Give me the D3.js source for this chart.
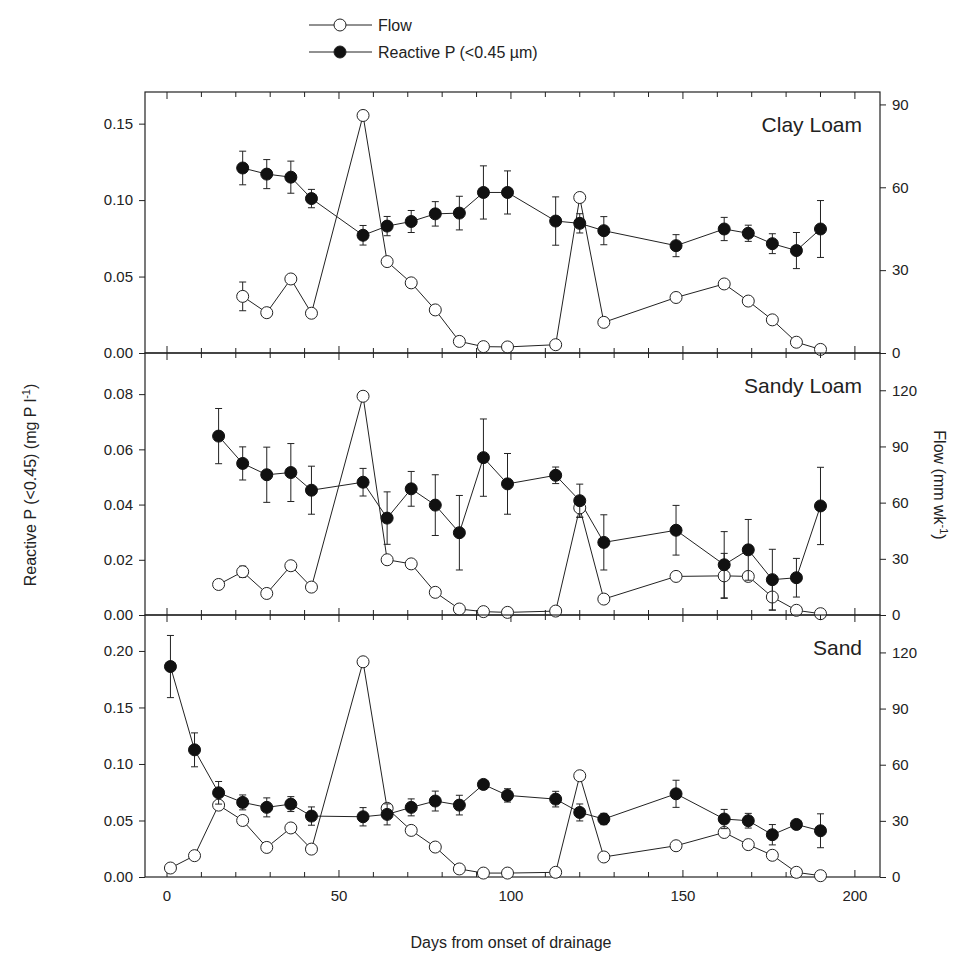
<!DOCTYPE html>
<html><head><meta charset="utf-8">
<script src="https://cdn.jsdelivr.net/npm/d3@7"></script>
<style>body{margin:0;background:#fff}text{font-family:"Liberation Sans",Arial,sans-serif;fill:#222}</style>
</head><body><svg id="c" width="956" height="953"></svg>
<script>
const panelNames = ["Clay Loam","Sandy Loam","Sand"];
const clayDays = [22,29,36,42,57,64,71,78,85,92,99,113,120,127,148,162,169,176,183,190];
const clayP =    [.121,.117,.115,.101,.077,.083,.086,.091,.0915,.105,.105,.0863,.0848,.080,.0702,.0811,.0783,.0715,.067,.0811];
const clayPErr = [.011,.0095,.0105,.006,.0064,.0063,.0072,.008,.011,.0174,.0141,.0158,.0063,.0092,.0072,.0076,.0053,.0065,.0118,.0186];
const clayFlow = [20.5,14.6,26.8,14.4,86,33.1,25.4,15.6,4.2,2.3,2.2,3,56.3,11.1,20.1,25,18.8,12,3.9,1.3];
const clayFlowErr=[5.2,0,0,0,0,0,0,0,0,0,0,0,0,0,0,0,0,0,0,0];
const sandyDays = [15,22,29,36,42,57,64,71,78,85,92,99,113,120,127,148,162,169,176,183,190];
const sandyP =    [.0648,.0549,.0508,.0516,.0452,.0481,.0351,.0457,.0398,.0298,.057,.0475,.0506,.0414,.0263,.0307,.0182,.0236,.0128,.0135,.0395];
const sandyPErr = [.010,.006,.010,.0105,.0087,.005,.0095,.0063,.011,.0135,.014,.011,.003,.006,.010,.009,.012,.011,.011,.007,.014];
const sandyFlow = [16.3,23.1,11.5,26.3,14.9,116.8,29.5,27.3,12.1,3.2,1.8,1.4,2.1,57.2,8.5,20.6,20.9,20.6,9.6,2.5,0.7];
const sandyFlowErr=[0,3,0,0,0,0,0,0,0,0,0,0,0,5,0,0,12,0,7,0,0];
const sandDays = [1,8,15,22,29,36,42,57,64,71,78,85,92,99,113,120,127,148,162,169,176,183,190];
const sandP =    [.1862,.1125,.0745,.066,.0616,.0645,.0539,.0533,.0554,.0616,.0672,.0636,.0819,.0722,.0689,.0571,.0513,.0736,.0513,.0498,.0374,.0465,.0409];
const sandPErr = [.0275,.015,.010,.0066,.0084,.0066,.0081,.0081,.0093,.0075,.0088,.0087,.003,.0059,.0069,.0075,.005,.012,.0085,.0065,.009,.003,.015];
const sandFlow = [4.8,11.4,38.4,30.2,15.8,26.2,14.9,115,36.7,24.9,16,4.3,2.1,2.1,2.5,54.1,10.7,16.7,23.8,17.3,11.6,2.5,0.7];
const sandFlowErr=[0,0,2,0,0,0,0,0,0,0,0,0,0,0,0,0,0,0,2,0,0,0,0];
const leftMax = [0.1707,0.0949,0.2318], rightMax = [94.5,139.9,140];
const leftTicks = [[0,.05,.10,.15],[0,.02,.04,.06,.08],[0,.05,.10,.15,.20]];
const rightTicks = [[0,30,60,90],[0,30,60,90,120],[0,30,60,90,120]];
const xTicks = [0,50,100,150,200];
const data = [
 {days:clayDays,p:clayP,pe:clayPErr,f:clayFlow,fe:clayFlowErr},
 {days:sandyDays,p:sandyP,pe:sandyPErr,f:sandyFlow,fe:sandyFlowErr},
 {days:sandDays,p:sandP,pe:sandPErr,f:sandFlow,fe:sandFlowErr}];

const svg = d3.select("#c");
const L=145,R=880,tops=[92,353,615],bot=877;
const x = d3.scaleLinear().domain([-6.4,207.3]).range([L,R]);
const fmt=[d3.format(".2f"),d3.format(".2f"),d3.format(".2f")];
data.forEach((d,i)=>{
  const y0=tops[i], y1=(i<2?tops[i+1]:bot);
  const yl=d3.scaleLinear().domain([0,leftMax[i]]).range([y1,y0]);
  const yr=d3.scaleLinear().domain([0,rightMax[i]]).range([y1,y0]);
  const g=svg.append("g");
  g.append("rect").attr("x",L).attr("y",y0).attr("width",R-L).attr("height",y1-y0).attr("fill","none").attr("stroke","#222").attr("stroke-width",1.2);
  // x ticks inward top & bottom
  const minor=d3.range(0,201,10);
  minor.forEach(t=>{const len=xTicks.includes(t)?7:5;
    g.append("line").attr("x1",x(t)).attr("x2",x(t)).attr("y1",y1).attr("y2",y1-len).attr("stroke","#222");
    g.append("line").attr("x1",x(t)).attr("x2",x(t)).attr("y1",y0).attr("y2",y0+len).attr("stroke","#222");});
  const la=g.append("g").attr("transform",`translate(${L},0)`).call(d3.axisLeft(yl).tickValues(leftTicks[i]).tickFormat(fmt[i]).tickSize(6).tickPadding(6));
  const ra=g.append("g").attr("transform",`translate(${R},0)`).call(d3.axisRight(yr).tickValues(rightTicks[i]).tickSize(6).tickPadding(6));
  [la,ra].forEach(a=>{a.select(".domain").remove();a.selectAll("text").attr("font-size",15).attr("font-family","Liberation Sans, Arial");a.selectAll("line").attr("stroke","#222");});
  g.append("text").attr("x",862).attr("y",y0+40).attr("text-anchor","end").attr("font-size",21).text(panelNames[i]);
  const idx=d.days.map((_,k)=>k);
  const lineP=d3.line().x(k=>x(d.days[k])).y(k=>yl(d.p[k]));
  const lineF=d3.line().x(k=>x(d.days[k])).y(k=>yr(d.f[k]));
  g.append("path").attr("d",lineF(idx)).attr("fill","none").attr("stroke","#222").attr("stroke-width",1);
  g.append("path").attr("d",lineP(idx)).attr("fill","none").attr("stroke","#222").attr("stroke-width",1);
  const eb=(xx,ya,yb)=>{g.append("line").attr("x1",xx).attr("x2",xx).attr("y1",ya).attr("y2",yb).attr("stroke","#222");
    [ya,yb].forEach(yy=>g.append("line").attr("x1",xx-3.5).attr("x2",xx+3.5).attr("y1",yy).attr("y2",yy).attr("stroke","#222"));};
  idx.forEach(k=>{ if(d.fe[k]>0) eb(x(d.days[k]),yr(d.f[k]-d.fe[k]),yr(d.f[k]+d.fe[k])); });
  idx.forEach(k=>{ g.append("circle").attr("cx",x(d.days[k])).attr("cy",yr(d.f[k])).attr("r",6).attr("fill","#fff").attr("stroke","#222").attr("stroke-width",1); });
  idx.forEach(k=>{ eb(x(d.days[k]),yl(d.p[k]-d.pe[k]),yl(d.p[k]+d.pe[k])); });
  idx.forEach(k=>{ g.append("circle").attr("cx",x(d.days[k])).attr("cy",yl(d.p[k])).attr("r",6).attr("fill","#111").attr("stroke","#111"); });
});
// x tick labels
xTicks.forEach(t=>svg.append("text").attr("x",x(t)).attr("y",bot+24).attr("text-anchor","middle").attr("font-size",15).text(t));
svg.append("text").attr("x",511).attr("y",948).attr("text-anchor","middle").attr("font-size",16).text("Days from onset of drainage");
const yl=svg.append("text").attr("transform","translate(36,485) rotate(-90)").attr("text-anchor","middle").attr("font-size",16);
yl.append("tspan").text("Reactive P (<0.45) (mg P l");yl.append("tspan").attr("dy",-6).attr("font-size",11).text("-1");yl.append("tspan").attr("dy",6).text(")");
const yr=svg.append("text").attr("transform","translate(934,485) rotate(90)").attr("text-anchor","middle").attr("font-size",16);
yr.append("tspan").text("Flow (mm wk");yr.append("tspan").attr("dy",-6).attr("font-size",11).text("-1");yr.append("tspan").attr("dy",6).text(")");
// legend
const leg=[["Flow","#fff",25],["Reactive P (<0.45 µm)","#111",52]];
leg.forEach(([t,f,yy])=>{svg.append("line").attr("x1",309).attr("x2",372).attr("y1",yy).attr("y2",yy).attr("stroke","#222");
  svg.append("circle").attr("cx",340).attr("cy",yy).attr("r",6).attr("fill",f).attr("stroke","#222");
  svg.append("text").attr("x",378).attr("y",yy+6).attr("font-size",16).text(t);});
</script></body></html>
